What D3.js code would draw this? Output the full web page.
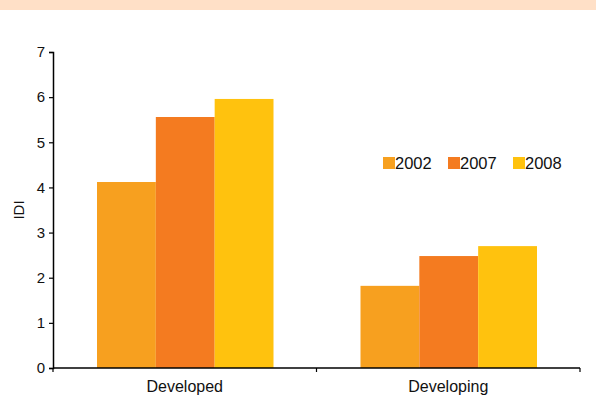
<!DOCTYPE html>
<html><head><meta charset="utf-8">
<script src="https://cdn.jsdelivr.net/npm/d3@7"></script>
<style>body{margin:0;background:#fff}svg{display:block;font-family:"Liberation Sans",Arial,sans-serif}</style>
</head><body>
<svg id="c" width="596" height="419"></svg>
<script>
const categories = ["Developed", "Developing"];
const years = ["2002", "2007", "2008"];
const v2002 = [4.12, 1.82];
const v2007 = [5.56, 2.48];
const v2008 = [5.96, 2.70];
const yTicks = [0, 1, 2, 3, 4, 5, 6, 7];
const colors = ["#F7A01F", "#F47B20", "#FFC20E"];

const series = [v2002, v2007, v2008];
const svg = d3.select("#c");
svg.append("rect").attr("x",0).attr("y",0).attr("width",596).attr("height",10).attr("fill","#FFE0C7");

const x0 = d3.scaleBand().domain(categories).range([53, 580]).padding(0);
const x1 = d3.scaleBand().domain(years).range([44, x0.bandwidth()-43]).padding(0);
const y = d3.scaleLinear().domain([0, 7]).range([368, 52]);

const g = svg.append("g");
categories.forEach((c, ci) => {
  years.forEach((yr, si) => {
    g.append("rect")
      .attr("x", x0(c) + x1(yr))
      .attr("y", y(series[si][ci]))
      .attr("width", x1.bandwidth())
      .attr("height", y(0) - y(series[si][ci]))
      .attr("fill", colors[si]);
  });
});

// y axis
const ya = svg.append("g").attr("transform","translate(53,0)")
  .call(d3.axisLeft(y).tickValues(yTicks).tickSize(4).tickPadding(4).tickFormat(d3.format("d")));
ya.select(".domain").attr("stroke","#000").attr("stroke-width",1.5);
ya.selectAll(".tick line").attr("stroke","#000").attr("stroke-width",1.2);
ya.selectAll("text").attr("font-size",15).attr("fill","#111").attr("font-family","Liberation Sans, Arial, sans-serif");

// x axis
const xa = svg.append("g").attr("transform","translate(0,368)");
xa.append("line").attr("x1",53).attr("x2",580).attr("y1",0).attr("y2",0).attr("stroke","#000").attr("stroke-width",1.5);
const bounds = [x0.range()[0]].concat(categories.map(c => x0(c) + x0.bandwidth()));
bounds.forEach(b => xa.append("line").attr("x1",b).attr("x2",b).attr("y1",0).attr("y2",4).attr("stroke","#000").attr("stroke-width",1.2));
categories.forEach(c => xa.append("text").attr("x", x0(c) + x0.bandwidth()/2).attr("y", 24)
  .attr("text-anchor","middle").attr("font-size",16).attr("fill","#111").text(c));

// y label
svg.append("text").attr("transform","translate(24,210) rotate(-90)").attr("text-anchor","middle")
  .attr("font-size",15).attr("fill","#111").text("IDI");

// legend
const legX = [383, 448, 513];
years.forEach((yr, i) => {
  svg.append("rect").attr("x", legX[i]).attr("y", 157).attr("width", 12).attr("height", 12).attr("fill", colors[i]);
  svg.append("text").attr("x", legX[i] + 12).attr("y", 169).attr("font-size", 16.5).attr("fill","#111").text(yr);
});
</script>
</body></html>
